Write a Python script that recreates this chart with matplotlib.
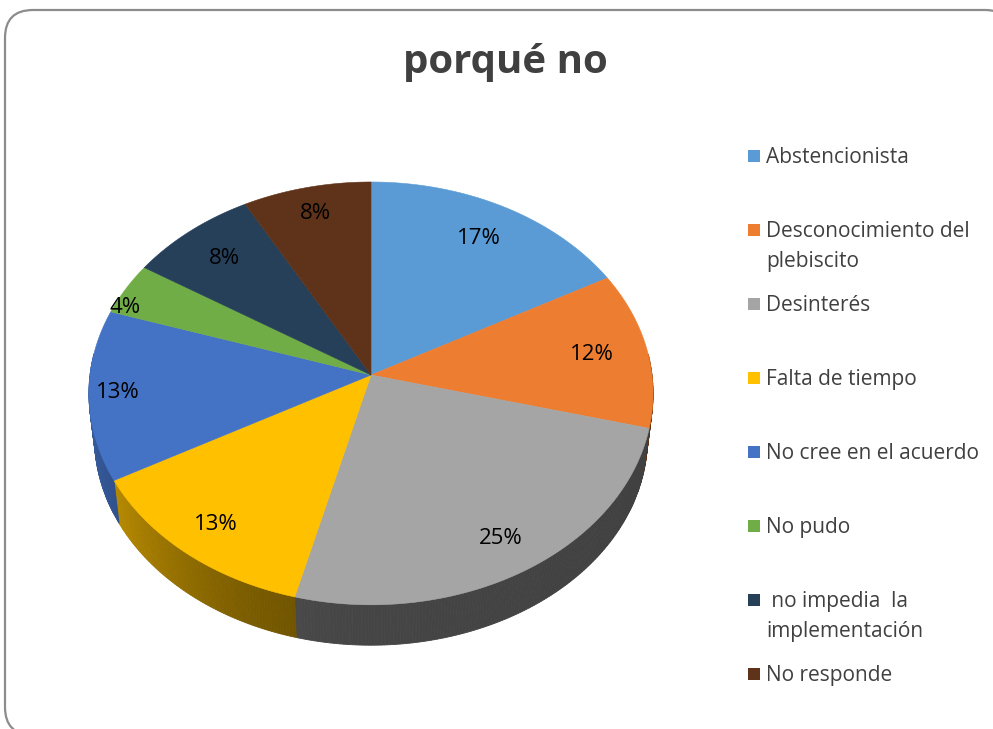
import numpy as np
import matplotlib.pyplot as plt
from matplotlib.patches import Polygon, FancyBboxPatch, Rectangle

labels = ['Abstencionista', 'Desconocimiento del\nplebiscito', 'Desinterés',
          'Falta de tiempo', 'No cree en el acuerdo', 'No pudo',
          ' no impedia  la\nimplementación', 'No responde']
values = [17, 12, 25, 13, 13, 4, 8, 8]
colors = ['#5B9BD5', '#ED7D31', '#A5A5A5', '#FFC000', '#4472C4', '#70AD47',
          '#26405A', '#5F3319']
title = 'porqué no'

# pseudo 3d pie geometry (pixels)
CX, CY = 371, 375
RX, RY = 281, 209.8
A = 0.087
DEPTH = 45
K = 0.98  # bottom rim shrinks a little (perspective)
label_r = [0.8, 0.8, 0.85, 0.85, 0.9, 0.96, 0.8, 0.85]
label_shift = [0, 0, 0, 0, 0, 0.09, 0, 0]  # radians, excel "best fit" nudge


def proj(r, th):
    u = r * np.cos(th)
    v = r * np.sin(th)
    s = 1 + A * v
    return CX + RX * u / s, CY - RY * v / s


def bottom(x, y):
    return CX + K * (x - CX), CY + DEPTH + K * (y - CY)


def shade(hexcol, f):
    c = np.array([int(hexcol[i:i + 2], 16) for i in (1, 3, 5)]) / 255
    return tuple(np.clip(c * f, 0, 1))


fig = plt.figure(figsize=(9.93, 7.29), dpi=100)
ax = fig.add_axes([0, 0, 1, 1])
ax.set_xlim(0, 993)
ax.set_ylim(729, 0)
ax.set_axis_off()

# chart frame
frame = FancyBboxPatch((5, 10), 1008, 725, boxstyle='round,pad=0,rounding_size=28',
                       fc='white', ec='#8c8c8c', lw=1.6, clip_on=False, zorder=0)
ax.add_patch(frame)

total = sum(values)
cum = np.concatenate([[0], np.cumsum(values)])
starts = np.deg2rad(90 - 360 * cum[:-1] / total)
ends = np.deg2rad(90 - 360 * cum[1:] / total)

# side walls
for i in range(len(values)):
    th = np.linspace(starts[i], ends[i], max(4, int(values[i] * 6)))
    for a, b in zip(th[:-1], th[1:]):
        if np.sin((a + b) / 2) > 0.1:
            continue
        xa, ya = proj(1, a)
        xb, yb = proj(1, b)
        c = np.cos((a + b) / 2)
        f = 0.42 + 0.38 * max(0, -c) ** 2 - 0.03 * max(0, c)
        col = shade(colors[i], f)
        ax.add_patch(Polygon([(xa, ya), (xb, yb), bottom(xb, yb), bottom(xa, ya)],
                             closed=True, fc=col, ec=col, lw=0.6, zorder=1))

# top faces
for i in range(len(values)):
    th = np.linspace(starts[i], ends[i], 100)
    xs, ys = proj(1, th)
    pts = [(CX, CY)] + list(zip(xs, ys))
    ax.add_patch(Polygon(pts, closed=True, fc=colors[i], ec=colors[i], lw=0.4, zorder=2))
    mid = (starts[i] + ends[i]) / 2 + label_shift[i]
    lx, ly = proj(label_r[i], mid)
    ax.text(lx, ly, f'{values[i]}%', ha='center', va='center', fontsize=16,
            family='Open Sans', color='black', zorder=3)

ax.text(505, 62, title, ha='center', va='center', fontsize=29, fontweight='bold',
        family='Open Sans', color='#404040')

# legend
leg_y = [156, 230, 304, 378, 452, 526, 600, 674]
for i, lab in enumerate(labels):
    y = leg_y[i]
    ax.add_patch(Rectangle((748, y - 6), 12, 12, fc=colors[i], ec='none'))
    for k, line in enumerate(lab.split('\n')):
        ax.text(766, y + 7 + 30 * k, line, ha='left', va='baseline', fontsize=15,
                family='Open Sans', color='#404040')

fig.savefig('out.png', dpi=100)
